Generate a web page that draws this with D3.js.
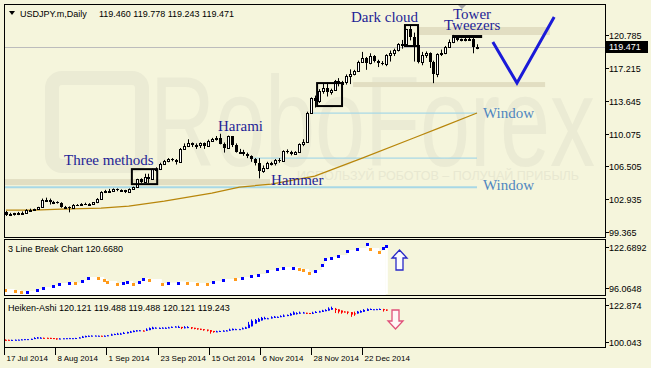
<!DOCTYPE html>
<html>
<head>
<meta charset="utf-8">
<script src="https://cdn.jsdelivr.net/npm/d3@7"></script>
<style>
  html, body { margin: 0; padding: 0; background: #f5f5dc; }
  svg { display: block; font-family: "Liberation Sans", Arial, sans-serif; }
</style>
</head>
<body>
<script>
// Daily bars, 17 Jul 2014 .. 31 Dec 2014
var opens = [101.55,101.20,101.35,101.40,101.45,101.45,101.80,101.80,101.85,102.10,102.80,102.80,102.60,102.60,102.55,102.10,102.10,102.00,102.35,102.30,
  102.45,102.40,102.40,102.60,103.00,103.70,103.80,103.85,104.05,103.90,103.90,103.70,104.05,104.25,105.10,104.80,105.30,105.10,106.20,106.20,
  106.80,107.10,107.35,107.20,106.95,108.40,108.70,109.00,108.80,108.80,109.00,108.70,109.30,109.45,109.60,108.90,108.50,109.75,108.80,108.10,
  108.10,107.80,107.60,107.30,106.90,105.95,106.30,106.90,106.90,107.20,107.05,108.20,108.10,107.85,108.10,108.90,109.20,112.30,113.90,113.60,
  114.70,115.00,114.60,114.80,115.80,115.50,115.70,116.30,116.60,116.90,117.90,118.30,117.70,118.50,118.00,117.70,117.60,118.60,118.80,119.20,
  119.80,119.80,121.40,120.60,119.70,117.80,118.60,118.80,117.80,116.50,118.70,118.80,119.50,120.00,120.60,120.20,120.30,120.35,120.40,119.46];
var highs = [101.65,101.45,101.45,101.55,101.60,101.85,101.90,101.90,102.10,103.00,103.10,103.00,102.75,102.70,102.60,102.20,102.15,102.40,102.40,102.50,
  102.55,102.50,102.60,103.05,103.80,103.95,104.05,104.10,104.10,104.00,103.95,104.10,104.30,105.15,105.20,105.70,105.70,106.25,106.40,106.90,
  107.20,107.40,107.40,107.30,108.50,109.00,109.45,109.10,109.00,109.10,109.10,109.40,109.60,109.80,110.05,109.10,109.85,109.80,109.00,108.40,
  108.30,108.00,107.70,107.40,107.40,106.60,107.00,107.00,107.30,107.40,108.25,108.35,108.20,108.15,109.00,109.45,112.45,114.00,114.20,114.90,
  115.50,115.60,114.95,115.90,116.10,115.80,116.50,117.05,117.00,118.00,118.95,118.40,118.80,118.60,118.10,117.95,118.70,119.10,119.30,119.90,
  120.25,121.45,121.85,121.05,120.00,118.95,119.00,118.90,118.00,118.80,119.20,119.60,120.30,120.80,120.70,120.40,120.50,120.70,120.50,119.78];
var lows = [101.10,101.10,101.15,101.20,101.35,101.40,101.70,101.70,101.80,102.05,102.70,102.35,102.40,102.45,102.00,101.90,101.50,101.95,102.20,102.25,
  102.30,102.25,102.35,102.50,102.95,103.60,103.70,103.80,103.80,103.75,103.60,103.65,104.00,104.20,104.70,104.75,104.70,105.10,105.95,106.10,
  106.70,106.95,107.05,106.70,106.90,108.35,108.60,108.60,108.40,108.50,108.40,108.65,109.20,109.30,108.90,108.00,108.45,108.60,108.00,107.90,
  107.65,107.40,107.00,106.60,105.20,105.80,106.20,106.60,106.60,106.90,107.00,107.90,107.70,107.80,107.95,108.70,109.10,112.20,112.90,113.40,
  114.40,114.10,114.30,114.70,115.20,115.20,115.40,115.45,116.40,116.80,117.80,117.00,117.60,117.80,117.30,117.50,117.40,117.90,118.50,119.00,
  119.30,119.70,120.20,117.90,117.70,117.50,118.30,117.20,115.55,116.20,118.50,118.70,119.40,119.90,120.10,120.10,120.10,120.20,118.80,119.24];
var closes = [101.20,101.35,101.40,101.45,101.45,101.80,101.80,101.85,102.10,102.80,102.80,102.60,102.60,102.55,102.10,102.10,102.00,102.35,102.30,102.45,
  102.40,102.40,102.60,103.00,103.70,103.80,103.85,104.05,103.90,103.90,103.70,104.05,104.25,105.10,104.80,105.30,105.10,106.20,106.20,106.80,
  107.10,107.35,107.20,106.95,108.40,108.70,109.00,108.80,108.80,109.00,108.70,109.30,109.45,109.60,108.90,108.50,109.75,108.80,108.10,108.10,
  107.80,107.60,107.30,106.90,105.95,106.30,106.90,106.90,107.20,107.05,108.20,108.10,107.85,108.10,108.90,109.20,112.30,113.90,113.60,114.70,
  115.00,114.60,114.80,115.80,115.50,115.70,116.30,116.60,116.90,117.90,118.30,117.70,118.50,118.00,117.70,117.60,118.60,118.80,119.20,119.80,
  119.80,121.40,120.60,119.70,117.80,118.60,118.80,117.80,116.50,118.70,118.80,119.50,120.00,120.60,120.20,120.30,120.35,120.40,119.50,119.47];

// moving average (bar index, price)
var maBars = [0, 7, 14, 24, 31, 40, 52, 59, 67, 78, 90, 103, 110, 119];
var maValues = [101.74, 101.74, 101.85, 101.96, 102.18, 102.72, 103.59, 104.25, 104.57, 105.44, 107.40, 109.58, 110.77, 112.30];

// 3 Line Break bricks (bar index, level, 1 = up)
var lbBars = [0,3,5,7,10,12,15,17,20,22,24,26,29,31,32,35,37,38,40,42,43,45,49,51,54,57,60,63,65,68,72,74,77,79,82,85,87,90,92,93,95,97,99,100,102,104,107,110,113,114,117,118,119];
var lbValues = [94.77,94.12,93.47,93.47,94.77,96.06,97.36,98.66,99.31,99.0,100.61,102.56,102.56,101.26,99.96,98.66,99.31,99.96,98.66,99.96,
  101.91,101.26,98.66,99.0,99.6,99.31,98.66,98.66,99.96,101.26,101.91,102.56,103.86,104.51,107.10,108.40,109.05,109.05,108.40,107.75,
  105.80,107.10,111.0,114.9,115.55,116.84,120.09,121.39,124.64,121.39,119.44,122.04,123.34];
var lbUp = [0,0,0,1,1,1,1,1,1,0,1,1,0,0,0,0,1,1,0,1,1,0,0,1,1,0,0,0,1,1,0,1,1,1,1,1,1,1,0,0,0,1,1,1,1,1,1,1,1,0,0,1,1];

// horizontal price levels drawn on the chart
var bandStart = [-0.5, 87.7, 104];
var bandEnd = [66.7, 136.2, 137.4];
var bandLow = [104.46, 115.13, 120.79];
var bandHigh = [105.12, 115.67, 121.66];
var windowStart = [-0.5, 61.6, 76.8];
var windowEnd = [119, 119, 119];
var windowLevel = [104.24, 107.4, 112.3];

// pattern boxes
var boxStart = [31.8, 78.6, 100.8];
var boxEnd = [38.2, 84.9, 104.1];
var boxLow = [104.57, 113.06, 119.59];
var boxHigh = [106.2, 115.56, 121.87];
var tweezers = [112.7, 120.3, 120.46, 120.785];
var vBars = [123, 129.1, 138.5];
var vPrices = [120.02, 115.56, 122.74];

// axes
var mainTicks = [120.785, 117.215, 113.645, 110.075, 106.505, 102.935, 99.365];
var lastPrice = 119.471;
var lbTicks = [122.6892, 96.0648];
var lbTickLabels = ["122.6892", "96.0648"];
var haTicks = [122.874, 100.043];
var dateBars = [0, 16, 32, 48, 64, 80, 96, 112];
var dateLabels = ["17 Jul 2014", "8 Aug 2014", "1 Sep 2014", "23 Sep 2014", "15 Oct 2014", "6 Nov 2014", "28 Nov 2014", "22 Dec 2014"];

var svgWidth = 651, svgHeight = 368;
var left = 4, right = 605;
var mainTop = 4, mainBottom = 237;
var lbTop = 239, lbBottom = 295;
var haTop = 298, haBottom = 347;
var bg = "#f5f5dc";
var navy = "#1e1e96";

var svg = d3.select("body").append("svg")
  .attr("width", svgWidth)
  .attr("height", svgHeight);

svg.append("rect").attr("width", svgWidth).attr("height", svgHeight).attr("fill", bg);

var defs = svg.append("defs");
function clip(id, y0, y1) {
  defs.append("clipPath").attr("id", id).append("rect")
    .attr("x", left + 1).attr("y", y0 + 1).attr("width", right - left - 1).attr("height", y1 - y0 - 1);
}
clip("cMain", mainTop, mainBottom);
clip("cLb", lbTop, lbBottom);
clip("cHa", haTop, haBottom);

var bars = d3.range(closes.length);

// scales
var xMain = d3.scaleLinear().domain([0, 119]).range([6, 477]);
var yMain = d3.scaleLinear().domain([98.82, 124.16]).range([mainBottom, mainTop]);
var xSub = d3.scaleLinear().domain([0, 119]).range([5, 385.8]);
var yLb = d3.scaleLinear().domain([96.0648, 122.6892]).range([288, 247]);
var yHa = d3.scaleLinear().domain([100.043, 122.874]).range([342, 305]);

// ================= main panel =================
var mainG = svg.append("g").attr("clip-path", "url(#cMain)");

// watermark
mainG.append("rect")
  .attr("x", 52).attr("y", 78).attr("width", 90).attr("height", 88).attr("rx", 10)
  .attr("fill", "none").attr("stroke", "#ebebd4").attr("stroke-width", 14);
mainG.append("text")
  .attr("x", 150).attr("y", 166)
  .attr("font-family", "Arial, 'Liberation Sans', sans-serif")
  .attr("font-size", 128)
  .attr("textLength", 445).attr("lengthAdjust", "spacingAndGlyphs")
  .attr("fill", "#ebebd4")
  .text("RoboForex");
mainG.append("text")
  .attr("x", 297).attr("y", 180)
  .attr("font-size", 12)
  .attr("textLength", 282).attr("lengthAdjust", "spacingAndGlyphs")
  .attr("fill", "#e8e8d1")
  .text("ИСПОЛЬЗУЙ РОБОТОВ – ПОЛУЧАЙ ПРИБЫЛЬ");

// bands
mainG.selectAll(".band").data(bandStart).enter().append("rect")
  .attr("x", (d, k) => xMain(bandStart[k]))
  .attr("width", (d, k) => xMain(bandEnd[k]) - xMain(bandStart[k]))
  .attr("y", (d, k) => yMain(bandHigh[k]))
  .attr("height", (d, k) => yMain(bandLow[k]) - yMain(bandHigh[k]))
  .attr("fill", "#e2dec2");

// window lines
mainG.selectAll(".win").data(windowLevel).enter().append("line")
  .attr("x1", (d, k) => xMain(windowStart[k]))
  .attr("x2", (d, k) => xMain(windowEnd[k]))
  .attr("y1", d => yMain(d)).attr("y2", d => yMain(d))
  .attr("stroke", "#a8d8e6")
  .attr("stroke-width", (d, k) => k === 0 ? 2 : 1.3);

// current price line
mainG.append("line")
  .attr("x1", left).attr("x2", right)
  .attr("y1", Math.round(yMain(lastPrice)) + 0.5).attr("y2", Math.round(yMain(lastPrice)) + 0.5)
  .attr("stroke", "#bcbcbc");

// moving average
mainG.append("path")
  .datum(maBars)
  .attr("fill", "none")
  .attr("stroke", "#b8860b")
  .attr("stroke-width", 1.2)
  .attr("d", d3.line().x(b => xMain(b)).y((b, k) => yMain(maValues[k])));

// candles
var candles = mainG.selectAll(".candle").data(bars).enter().append("g");
candles.append("line")
  .attr("x1", i => Math.round(xMain(i)) + 0.5)
  .attr("x2", i => Math.round(xMain(i)) + 0.5)
  .attr("y1", i => yMain(highs[i]))
  .attr("y2", i => yMain(lows[i]))
  .attr("stroke", "#000");
candles.append("rect")
  .attr("x", i => closes[i] >= opens[i] ? Math.round(xMain(i)) - 0.5 : Math.round(xMain(i)) - 1)
  .attr("width", i => closes[i] >= opens[i] ? 2 : 3)
  .attr("y", function (i) {
    var t = Math.round(yMain(Math.max(opens[i], closes[i])));
    return closes[i] >= opens[i] ? t + 0.5 : t;
  })
  .attr("height", function (i) {
    var h = Math.round(yMain(Math.min(opens[i], closes[i]))) - Math.round(yMain(Math.max(opens[i], closes[i])));
    return Math.max(1, h);
  })
  .attr("fill", i => closes[i] >= opens[i] ? "#fff" : "#000")
  .attr("stroke", i => closes[i] >= opens[i] ? "#000" : "none")
  .attr("shape-rendering", "crispEdges");

// pattern boxes
mainG.selectAll(".pbox").data(boxStart).enter().append("rect")
  .attr("x", (d, k) => xMain(boxStart[k]))
  .attr("width", (d, k) => xMain(boxEnd[k]) - xMain(boxStart[k]))
  .attr("y", (d, k) => yMain(boxHigh[k]))
  .attr("height", (d, k) => yMain(boxLow[k]) - yMain(boxHigh[k]))
  .attr("fill", "none").attr("stroke", "#000").attr("stroke-width", 2);
mainG.append("rect")
  .attr("x", xMain(tweezers[0]))
  .attr("width", xMain(tweezers[1]) - xMain(tweezers[0]))
  .attr("y", yMain(tweezers[3]))
  .attr("height", yMain(tweezers[2]) - yMain(tweezers[3]))
  .attr("fill", "#000");

// V mark
mainG.append("path")
  .datum(vBars)
  .attr("fill", "none")
  .attr("stroke", "#1a1ad8")
  .attr("stroke-width", 3)
  .attr("d", d3.line().x(b => xMain(b)).y((b, k) => yMain(vPrices[k])));

// shift marker
mainG.append("path").attr("d", "M458,5 L466,5 L462,9 Z").attr("fill", "#a8a8a8");

// annotations
var notes = [
  ["Three methods", 64, 165, navy],
  ["Harami", 218, 131, navy],
  ["Hammer", 271, 185, navy],
  ["Dark cloud", 351, 22, navy],
  ["Tower", 453, 19, navy],
  ["Tweezers", 444, 30, navy],
  ["Window", 483, 118, "#4f86c0"],
  ["Window", 483, 190, "#4f86c0"]
];
mainG.selectAll(".note").data(notes).enter().append("text")
  .attr("x", d => d[1]).attr("y", d => d[2])
  .attr("font-family", "'Liberation Serif', 'Times New Roman', serif")
  .attr("font-size", 15)
  .attr("fill", d => d[3])
  .text(d => d[0]);

// header
mainG.append("path").attr("d", "M9,11 L15,11 L12,15 Z").attr("fill", "#000");
mainG.append("text").attr("x", 20).attr("y", 17).attr("font-size", 9).text("USDJPY.m,Daily");
mainG.append("text").attr("x", 99).attr("y", 17).attr("font-size", 9).text("119.460 119.778 119.243 119.471");

// ================= 3 Line Break panel =================
var lbG = svg.append("g").attr("clip-path", "url(#cLb)");
lbG.append("path")
  .datum(lbBars)
  .attr("fill", "#fff")
  .attr("d", d3.area().curve(d3.curveStepAfter)
    .x(b => xSub(b)).y0(lbBottom).y1((b, k) => yLb(lbValues[k]) - 1));
lbG.append("rect")
  .attr("x", xSub(lbBars[lbBars.length - 1])).attr("width", 2)
  .attr("y", yLb(lbValues[lbValues.length - 1]) - 1)
  .attr("height", lbBottom - yLb(lbValues[lbValues.length - 1]))
  .attr("fill", "#fff");
lbG.selectAll(".brick").data(lbBars).enter().append("rect")
  .attr("x", b => Math.round(xSub(b)) - 1)
  .attr("y", (b, k) => Math.round(yLb(lbValues[k])) - 1)
  .attr("width", 3).attr("height", 3)
  .attr("fill", (b, k) => lbUp[k] ? "#0000ff" : "#ff9a1a");
lbG.append("text").attr("x", 8).attr("y", 252).attr("font-size", 9).text("3 Line Break Chart 120.6680");
lbG.append("path")
  .attr("d", "M399.5,250 L407,258 L403,258 L403,270 L396,270 L396,258 L392,258 Z")
  .attr("fill", "#fbfbff").attr("stroke", "#2828c8").attr("stroke-width", 1.3);

// ================= Heiken-Ashi panel =================
var haO = [], haC = [], haH = [], haL = [];
bars.forEach(function (i) {
  haC[i] = (opens[i] + highs[i] + lows[i] + closes[i]) / 4;
  haO[i] = i === 0 ? (opens[i] + closes[i]) / 2 : (haO[i - 1] + haC[i - 1]) / 2;
  haH[i] = Math.max(highs[i], haO[i], haC[i]);
  haL[i] = Math.min(lows[i], haO[i], haC[i]);
});
var haG = svg.append("g").attr("clip-path", "url(#cHa)");
var haBars = haG.selectAll(".ha").data(bars).enter().append("g")
  .attr("fill", i => haC[i] >= haO[i] ? "#0000ff" : "#ff0000")
  .attr("stroke", i => haC[i] >= haO[i] ? "#0000ff" : "#ff0000");
haBars.append("line")
  .attr("x1", i => Math.round(xSub(i)) + 0.5)
  .attr("x2", i => Math.round(xSub(i)) + 0.5)
  .attr("y1", i => yHa(haH[i])).attr("y2", i => yHa(haL[i]));
haBars.append("rect")
  .attr("x", i => Math.round(xSub(i)))
  .attr("width", 2)
  .attr("y", i => yHa(Math.max(haO[i], haC[i])))
  .attr("height", i => Math.max(1, Math.abs(yHa(haO[i]) - yHa(haC[i]))))
  .attr("stroke", "none");
haG.append("text").attr("x", 8).attr("y", 311).attr("font-size", 9)
  .text("Heiken-Ashi 120.121 119.488 119.488 120.121 119.243");
haG.append("path")
  .attr("d", "M395.5,329 L403,321 L399,321 L399,310 L392,310 L392,321 L388,321 Z")
  .attr("fill", "#fff6f6").attr("stroke", "#e0507a").attr("stroke-width", 1.3);

// ================= frames =================
[[mainTop, mainBottom], [lbTop, lbBottom], [haTop, haBottom]].forEach(function (p) {
  svg.append("rect")
    .attr("x", left + 0.5).attr("y", p[0] + 0.5)
    .attr("width", right - left).attr("height", p[1] - p[0])
    .attr("fill", "none").attr("stroke", "#000");
});

// ================= right axes =================
function rightAxis(scale, ticks, labels) {
  ticks.forEach(function (t, k) {
    var y = Math.round(scale(t)) + 0.5;
    svg.append("line").attr("x1", right).attr("x2", right + 4).attr("y1", y).attr("y2", y).attr("stroke", "#000");
    svg.append("text").attr("x", 609).attr("y", y + 3).attr("font-size", 9).text(labels[k]);
  });
}
rightAxis(yMain, mainTicks, mainTicks.map(d => d3.format(".3f")(d)));
rightAxis(yLb, lbTicks, lbTickLabels);
rightAxis(yHa, haTicks, haTicks.map(d => d3.format(".3f")(d)));

var py = Math.round(yMain(lastPrice));
svg.append("rect").attr("x", 606).attr("y", py - 6).attr("width", 42).attr("height", 12).attr("fill", "#000");
svg.append("text").attr("x", 609).attr("y", py + 3).attr("font-size", 9).attr("fill", "#fff")
  .text(d3.format(".3f")(lastPrice));

// ================= time axis =================
dateBars.forEach(function (b, k) {
  var x = Math.round(xSub(b)) - 0.5;
  svg.append("line").attr("x1", x).attr("x2", x).attr("y1", haBottom).attr("y2", 355).attr("stroke", "#000");
  svg.append("text").attr("x", x + 2).attr("y", 361).attr("font-size", 8).text(dateLabels[k]);
});
</script>
</body>
</html>
